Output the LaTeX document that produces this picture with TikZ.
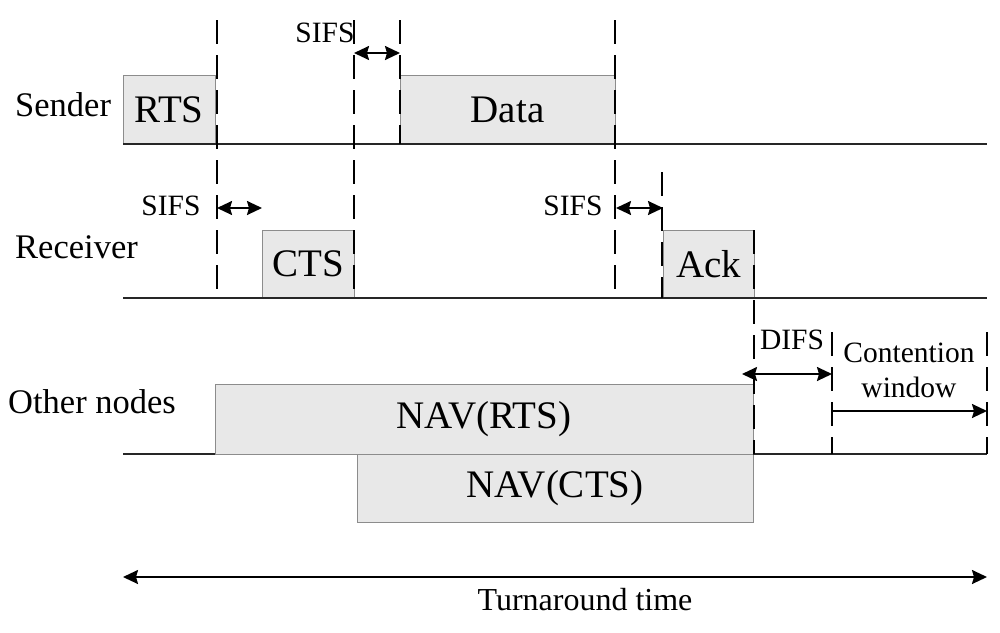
\documentclass[tikz,border=0pt]{standalone}
\usepackage{fontspec}
\setmainfont{Liberation Serif}
\usetikzlibrary{arrows.meta}
\begin{document}
\begin{tikzpicture}[x=1pt,y=-1pt,
  box/.style={draw=black!45, line width=1pt, fill=black!9, inner sep=0pt, font=\fontsize{39}{40}\selectfont},
  lbl/.style={anchor=west, inner sep=0pt, font=\fontsize{34.5}{36}\selectfont},
  small/.style={inner sep=0pt, font=\fontsize{29.5}{34}\selectfont},
  tick/.style={dash pattern=on 24pt off 11pt, line width=1.5pt},
  axis/.style={line width=2pt, black!85},
  dim/.style={line width=2pt, {Stealth[length=15pt,width=14pt,inset=2pt]}-{Stealth[length=15pt,width=14pt,inset=2pt]}},
  fwd/.style={line width=2pt, -{Stealth[length=15pt,width=14pt,inset=2pt]}}]
\useasboundingbox (0,0) rectangle (1000,632);

% boxes
\node[box, minimum width=92, minimum height=69] (rts) at (169,109.5) {RTS};
\node[box, minimum width=215, minimum height=69] (data) at (507.5,109.5) {Data};
\node[box, minimum width=92, minimum height=68] (cts) at (308,264) {CTS};
\node[box, minimum width=91, minimum height=68] (ack) at (708.5,264) {Ack};
\node[box, minimum width=396, minimum height=68] (navcts) at (555,488) {NAV(CTS)};
\node[box, minimum width=538, minimum height=70] (navrts) at (484,419) {NAV(RTS)};

% baselines
\coordinate (sa) at (123,144); \coordinate (sb) at (987,144);
\coordinate (ra) at (123,298); \coordinate (rb) at (987,298);
\coordinate (oa) at (123,454); \coordinate (ob) at (215,454);
\coordinate (oc) at (753,454); \coordinate (od) at (987,454);
\draw[axis] (sa) -- (sb);
\draw[axis] (ra) -- (rb);
\draw[axis] (oa) -- (ob);
\draw[axis] (oc) -- (od);

% dashed time marks
\coordinate (d1a) at (217,20);  \coordinate (d1b) at (217,298);
\coordinate (d2a) at (354,20);  \coordinate (d2b) at (354,298);
\coordinate (d3a) at (400,20);  \coordinate (d3b) at (400,144);
\coordinate (d4a) at (615,20);  \coordinate (d4b) at (615,298);
\coordinate (d5a) at (662,172); \coordinate (d5b) at (662,298);
\coordinate (d6a) at (754,230); \coordinate (d6b) at (754,454);
\coordinate (d7a) at (832,332); \coordinate (d7b) at (832,454);
\coordinate (d8a) at (987,332); \coordinate (d8b) at (987,454);
\foreach \i in {1,...,8} \draw[tick] (d\i a) -- (d\i b);

% labels
\node[lbl] (lsender) at (15,105) {Sender};
\node[lbl] (lrecv) at (15,247) {Receiver};
\node[lbl] (lother) at (8,402) {Other nodes};

% interval arrows
\coordinate (s1a) at (354,53);  \coordinate (s1b) at (400,53);
\draw[dim] (s1a) -- (s1b);
\node[small] (sifs1) at (325,33) {SIFS};
\coordinate (s2a) at (217,208); \coordinate (s2b) at (262,208);
\draw[dim] (s2a) -- (s2b);
\node[small] (sifs2) at (171,206) {SIFS};
\coordinate (s3a) at (616,208); \coordinate (s3b) at (663,208);
\draw[dim] (s3a) -- (s3b);
\node[small] (sifs3) at (573,206) {SIFS};
\coordinate (dfa) at (742,374); \coordinate (dfb) at (832,374);
\draw[dim] (dfa) -- (dfb);
\node[small] (difs) at (792,340) {DIFS};
\coordinate (cwa) at (832,411); \coordinate (cwb) at (987,411);
\draw[fwd] (cwa) -- (cwb);
\node[small, align=center, font=\fontsize{29.5}{35}\selectfont] (cw) at (909,370) {Contention\\window};
\coordinate (ta) at (123,577); \coordinate (tb) at (987,577);
\draw[dim] (ta) -- (tb);
\node[inner sep=0pt, font=\fontsize{32}{34}\selectfont] (turn) at (585,600) {Turnaround time};
\end{tikzpicture}
\end{document}
